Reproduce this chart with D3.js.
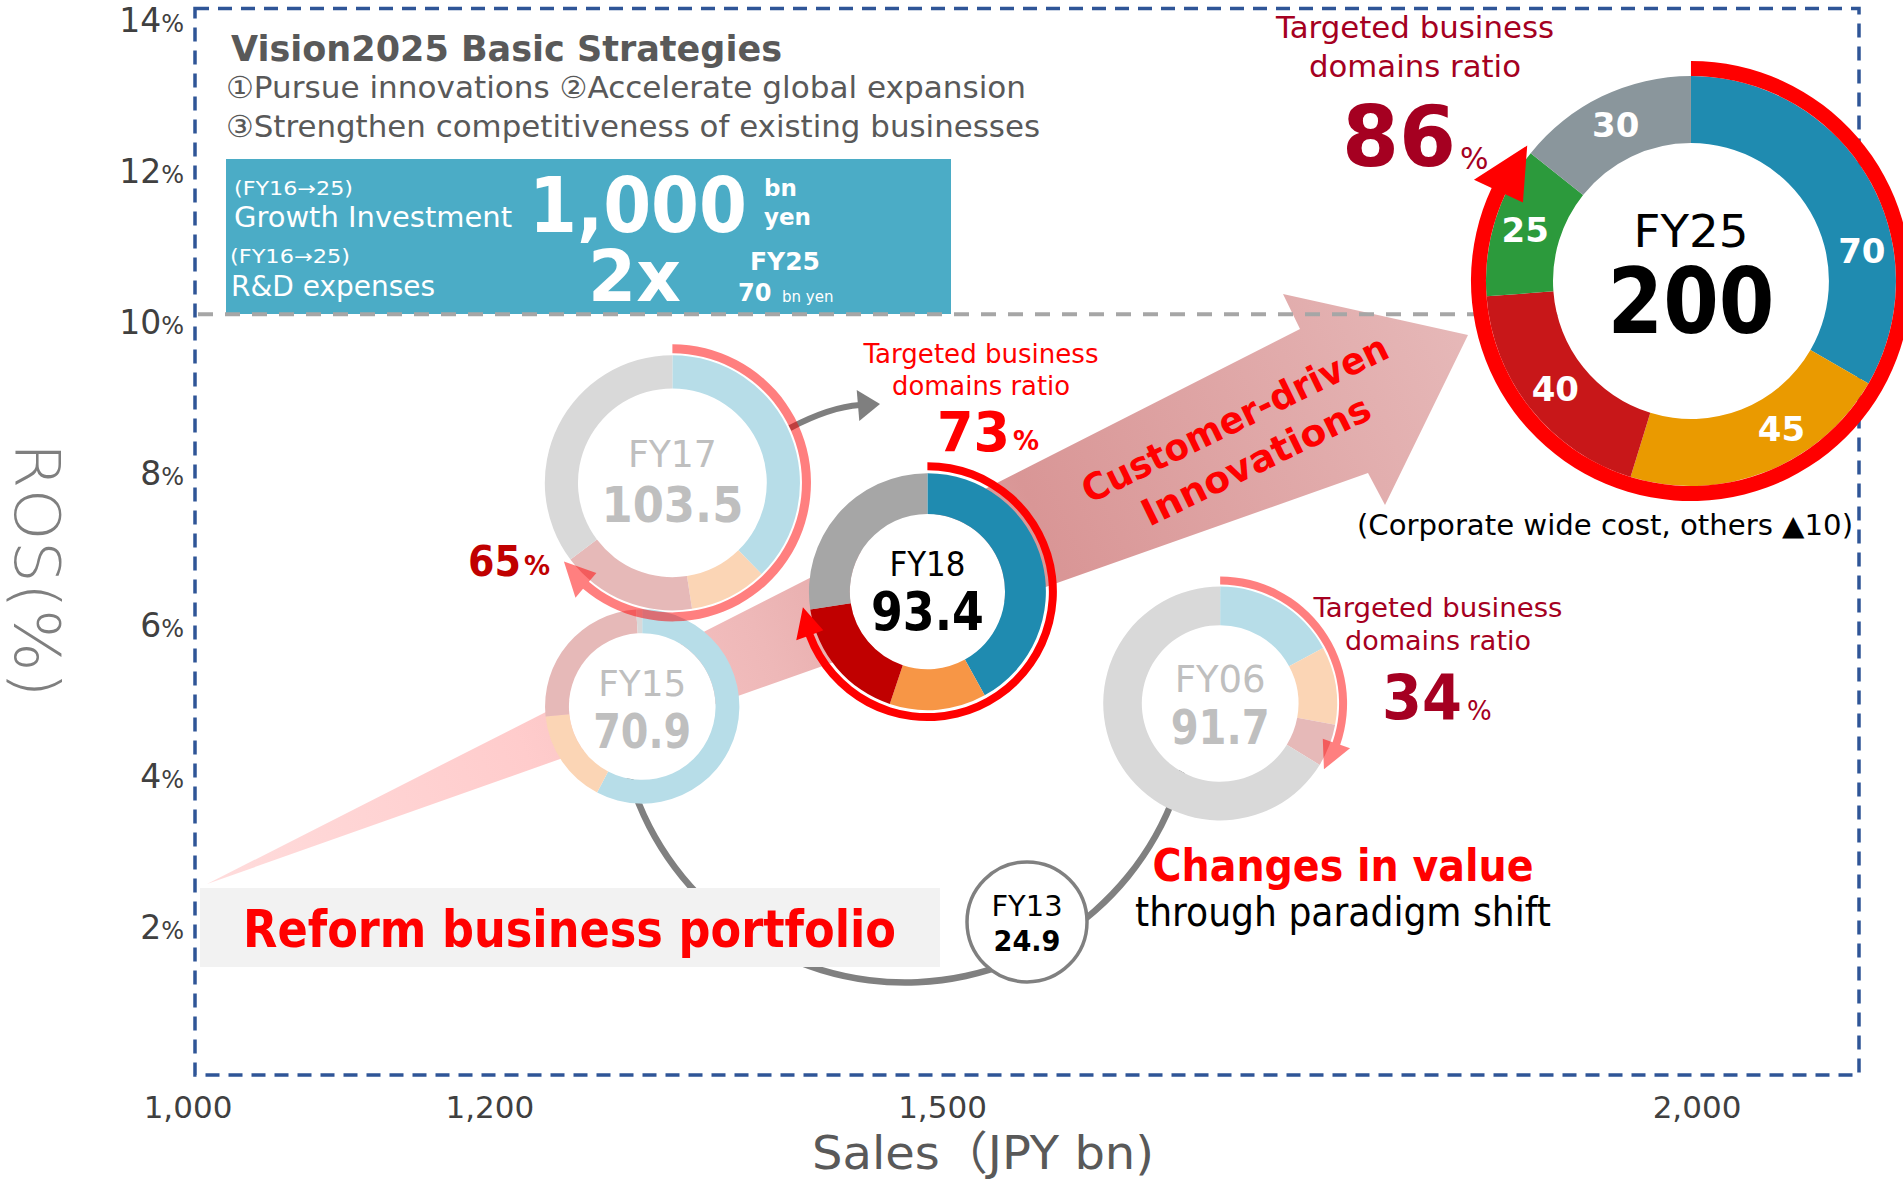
<!DOCTYPE html>
<html>
<head>
<meta charset="utf-8">
<script src="https://cdn.jsdelivr.net/npm/d3@7"></script>
<style>
  html, body { margin: 0; padding: 0; background: #fff; }
  svg { display: block; font-family: "DejaVu Sans", "Noto Sans CJK JP", sans-serif; }
</style>
</head>
<body>
<svg id="chart" width="1903" height="1181"></svg>
<script>
// ---------------- data ----------------
const years = ["FY06", "FY13", "FY15", "FY17", "FY18", "FY25"];
const sales = [1684, 1556, 1301, 1321, 1490, 1996];            // JPY bn
const ros = [4.85, 1.96, 4.81, 7.77, 6.33, 10.44];             // %
const operatingIncome = [91.7, 24.9, 70.9, 103.5, 93.4, 200];   // JPY bn
const targetRatio = [34, null, null, 65, 73, 86];               // % of income from targeted domains

// income by business domain, clockwise from 12 o'clock:
// [domain 1, domain 2, domain 3, domain 4, other businesses]
const segFY06 = [15.7, 9.9, 5.4, 0, 60.7];
const segFY15 = [40.9, 11.1, 18.2, 0, 0.7];
const segFY17 = [39.0, 10.2, 17.8, 0, 36.5];
const segFY18 = [39.2, 12.3, 16.3, 0, 25.6];
const segFY25 = [70, 45, 40, 25, 30];
const fy25CorporateOthers = -10;

const xTicks = [1000, 1200, 1500, 2000];
const xTickLabels = ["1,000", "1,200", "1,500", "2,000"];
const yTicks = [2, 4, 6, 8, 10, 12, 14];
const targetROS = 10;

// ---------------- scales ----------------
const svg = d3.select("#chart");
const x = d3.scaleLinear().domain([1000, 2000]).range([188, 1697]);
const y = d3.scaleLinear().domain([0, 14]).range([1070, 12]);
const rScale = d3.scalePow().exponent(0.72).domain([0, 200]).range([0, 205]);

// ---------------- palettes / styles ----------------
const fullPal = ["#1f8bb0", "#f79646", "#c00000", "#2c9a3c", "#a6a6a6"];
const fadedPal = ["#b7dde8", "#fbd5b5", "#e6b9b8", "#cfe8cf", "#d9d9d9"];
const fy25Pal = ["#1f8bb0", "#ea9a00", "#c81719", "#2c9a3c", "#8a969c"];

function addText(g, str, o) {
  const t = g.append("text")
    .attr("x", o.x).attr("y", o.y)
    .attr("font-size", o.size)
    .attr("fill", o.fill || "#000")
    .attr("text-anchor", o.anchor || "start")
    .attr("dominant-baseline", o.baseline || "central");
  if (o.bold) t.attr("font-weight", "bold");
  if (o.weight) t.attr("font-weight", o.weight);
  if (o.len) t.attr("textLength", o.len).attr("lengthAdjust", "spacingAndGlyphs");
  if (o.rotate) t.attr("transform", `rotate(${o.rotate},${o.x},${o.y})`);
  t.text(str);
  return t;
}

// point at radius r, angle a measured clockwise from 12 o'clock
function pt(cx, cy, r, a) { return [cx + r * Math.sin(a), cy - r * Math.cos(a)]; }

// thick arc from 12 o'clock clockwise to `ratio` of a turn, ending in an arrowhead
function ringPath(cx, cy, rc, w, ratio, headW, headL) {
  const ae = ratio * 2 * Math.PI, ab = ae - headL / rc;
  const ro = rc + w / 2, ri = rc - w / 2;
  const s = a => a - Math.PI / 2;
  const p = d3.path();
  p.moveTo(...pt(cx, cy, ro, 0));
  p.arc(cx, cy, ro, s(0), s(ab), false);
  p.lineTo(...pt(cx, cy, rc + headW / 2, ab));
  p.lineTo(...pt(cx, cy, rc, ae));
  p.lineTo(...pt(cx, cy, rc - headW / 2, ab));
  p.lineTo(...pt(cx, cy, ri, ab));
  p.arc(cx, cy, ri, s(ab), s(0), true);
  p.closePath();
  return p.toString();
}

// ---------------- frame ----------------
svg.append("rect")
  .attr("x", 195).attr("y", 8.5).attr("width", 1664).attr("height", 1066.5)
  .attr("fill", "none").attr("stroke", "#2f5597").attr("stroke-width", 3.5)
  .attr("stroke-dasharray", "14 9");

// ---------------- axes (labels only) ----------------
const yAx = svg.append("g");
yTicks.forEach(v => {
  const t = yAx.append("text").attr("x", 184).attr("y", y(v) + 20)
    .attr("text-anchor", "end").attr("fill", "#404040");
  t.append("tspan").attr("font-size", 33).text(v);
  t.append("tspan").attr("font-size", 24).text("%");
});
addText(svg, "ROS(%)", { x: 36, y: 570, size: 62, fill: "#7f7f7f", anchor: "middle", rotate: 90, len: 255, weight: 300 });

xTicks.forEach((v, i) => {
  addText(svg, xTickLabels[i], { x: x(v), y: 1107, size: 31, fill: "#404040", anchor: "middle" });
});
addText(svg, "Sales（JPY bn)", { x: 983, y: 1153, size: 46, fill: "#595959", anchor: "middle", len: 342 });

// ---------------- strategy header ----------------
addText(svg, "Vision2025 Basic Strategies", { x: 231, y: 48, size: 36, bold: true, fill: "#595959", len: 551 });
addText(svg, "①Pursue innovations ②Accelerate global expansion", { x: 226, y: 87, size: 30, fill: "#595959", len: 800 });
addText(svg, "③Strengthen competitiveness of existing businesses", { x: 226, y: 126, size: 30, fill: "#595959", len: 814 });

svg.append("rect").attr("x", 226).attr("y", 159).attr("width", 725).attr("height", 155).attr("fill", "#4bacc6");
addText(svg, "(FY16→25)", { x: 234, y: 188, size: 19, fill: "#fff", len: 119 });
addText(svg, "Growth Investment", { x: 234, y: 217, size: 28, fill: "#fff", len: 278 });
addText(svg, "1,000", { x: 529, y: 205, size: 76, bold: true, fill: "#fff", len: 218 });
addText(svg, "bn", { x: 764, y: 188, size: 23, bold: true, fill: "#fff" });
addText(svg, "yen", { x: 764, y: 217, size: 23, bold: true, fill: "#fff" });
addText(svg, "(FY16→25)", { x: 230, y: 256, size: 19, fill: "#fff", len: 120 });
addText(svg, "R&D expenses", { x: 231, y: 286, size: 28, fill: "#fff", len: 204 });
addText(svg, "2x", { x: 588, y: 276, size: 72, bold: true, fill: "#fff", len: 93 });
addText(svg, "FY25", { x: 785, y: 262, size: 24, bold: true, fill: "#fff", anchor: "middle", len: 70 });
addText(svg, "70", { x: 738, y: 293, size: 24, bold: true, fill: "#fff" });
addText(svg, "bn yen", { x: 782, y: 297, size: 15, fill: "#fff" });

// ---------------- growth arrow ----------------
const defs = svg.append("defs");
const grad = defs.append("linearGradient").attr("id", "growthGrad")
  .attr("gradientUnits", "userSpaceOnUse")
  .attr("x1", 207).attr("y1", 884).attr("x2", 1468).attr("y2", 335);
[[0, "#ffdcdc"], [0.25, "#ffcccc"], [0.44, "#eeb8b8"], [0.66, "#d99696"], [1, "#e6b8b8"]]
  .forEach(([o, c]) => grad.append("stop").attr("offset", o).attr("stop-color", c));
svg.append("path")
  .attr("d", d3.line()([[207, 884], [1300, 329], [1283, 294], [1468, 335], [1385, 505], [1368, 473]]) + "Z")
  .attr("fill", "url(#growthGrad)");

// target ROS line
svg.append("line")
  .attr("x1", 198).attr("x2", x(sales[5])).attr("y1", y(targetROS)).attr("y2", y(targetROS))
  .attr("stroke", "#a6a6a6").attr("stroke-width", 4).attr("stroke-dasharray", "15 12");

// paradigm-shift cycle
svg.append("path")
  .attr("transform", "translate(905,695)")
  .attr("d", d3.arc().innerRadius(284.25).outerRadius(290.75)
    .startAngle(100 * Math.PI / 180).endAngle(255 * Math.PI / 180)())
  .attr("fill", "#808080");

// portfolio reform banner
svg.append("rect").attr("x", 200).attr("y", 888).attr("width", 740).attr("height", 79).attr("fill", "#f2f2f2");
addText(svg, "Reform business portfolio", { x: 243, y: 929, size: 52, bold: true, fill: "#ff0000", len: 653 });

// ---------------- donuts ----------------
const donutStyle = {
  FY06: { inner: 0.67, palette: fadedPal, faded: true, gap: 2, ringW: 8,
          label: { fill: "#bfbfbf", fy: -24, fySize: 38, fyLen: 91, vy: 24, vSize: 48, vLen: 99 } },
  FY15: { inner: 0.755, palette: fadedPal, faded: true,
          label: { fill: "#bfbfbf", fy: -23, fySize: 36, fyLen: 88, vy: 24, vSize: 48, vLen: 98 } },
  FY17: { inner: 0.74, palette: fadedPal, faded: true, gap: 2, ringW: 9,
          label: { fill: "#bfbfbf", fy: -29, fySize: 38, fyLen: 89, vy: 22, vSize: 50, vLen: 142 } },
  FY18: { inner: 0.655, palette: fullPal, faded: false, gap: 3, ringW: 8,
          label: { fill: "#000", fy: -28, fySize: 34, fyLen: 76, vy: 20, vSize: 54, vLen: 113 } },
  FY25: { inner: 0.673, palette: fy25Pal, faded: false, gap: 0, ringW: 15,
          label: { fill: "#000", fy: -50, fySize: 44, fyLen: 115, vy: 20, vSize: 90, vLen: 167 } }
};

function drawDonut(i, segs) {
  const name = years[i], st = donutStyle[name];
  const cx = x(sales[i]), cy = y(ros[i]);
  const ro = rScale(operatingIncome[i]), ri = ro * st.inner;
  const g = svg.append("g").attr("transform", `translate(${cx},${cy})`);
  const arcs = d3.pie().sort(null).value(d => d)(segs).filter(a => a.value > 0);
  const arcGen = d3.arc().innerRadius(ri).outerRadius(ro);
  g.append("circle").attr("r", ri).attr("fill", "#fff");
  g.selectAll("path.seg").data(arcs).join("path")
    .attr("class", "seg").attr("d", arcGen).attr("fill", d => st.palette[d.index]);
  if (targetRatio[i] != null) {
    const rc = ro + st.gap + st.ringW / 2;
    const hw = st.ringW * 3.6;
    g.append("path")
      .attr("d", ringPath(0, 0, rc, st.ringW, targetRatio[i] / 100, hw, hw))
      .attr("fill", "#ff0000").attr("fill-opacity", st.faded ? 0.5 : 1);
  }
  const L = st.label;
  addText(g, name, { x: 0, y: L.fy, size: L.fySize, fill: L.fill, anchor: "middle", len: L.fyLen });
  addText(g, d3.format(",")(operatingIncome[i]), { x: 0, y: L.vy, size: L.vSize, bold: true, fill: L.fill, anchor: "middle", len: L.vLen });
  return { g, arcs, ri, ro, cx, cy };
}

drawDonut(2, segFY15);

// transition arrow out of FY17
svg.append("path").attr("d", "M790,428 Q830,407 860,405")
  .attr("fill", "none").attr("stroke", "#7f7f7f").attr("stroke-width", 6);
svg.append("path").attr("d", d3.line()([[856.7, 390], [880, 404], [859.3, 421]]) + "Z").attr("fill", "#7f7f7f");

drawDonut(3, segFY17);
drawDonut(4, segFY18);
drawDonut(0, segFY06);

// FY13 trough
{
  const cx = x(sales[1]), cy = y(ros[1]);
  const g = svg.append("g").attr("transform", `translate(${cx},${cy})`);
  g.append("circle").attr("r", 60).attr("fill", "#fff").attr("stroke", "#808080").attr("stroke-width", 3.5);
  addText(g, years[1], { x: 0, y: -16, size: 29, anchor: "middle", len: 71 });
  addText(g, d3.format(",")(operatingIncome[1]), { x: 0, y: 19, size: 29, bold: true, anchor: "middle", len: 67 });
}

const d25 = drawDonut(5, segFY25);
// segment values on the FY25 ring
const labelNudge = [20, -10, 0, 0, 0];
d25.arcs.forEach(a => {
  const mid = (a.startAngle + a.endAngle) / 2 + labelNudge[a.index] * Math.PI / 180;
  const [lx, ly] = pt(0, 0, (d25.ri + d25.ro) / 2 + 2, mid);
  addText(d25.g, a.value, { x: lx, y: ly, size: 34, bold: true, fill: "#fff", anchor: "middle" });
});

// ---------------- annotations ----------------
const darkRed = "#a50021";
// FY25
addText(svg, "Targeted business", { x: 1415, y: 27, size: 30, fill: darkRed, anchor: "middle", len: 278 });
addText(svg, "domains ratio", { x: 1415, y: 66, size: 30, fill: darkRed, anchor: "middle", len: 212 });
addText(svg, targetRatio[5], { x: 1342, y: 137, size: 84, bold: true, fill: darkRed, len: 114 });
addText(svg, "%", { x: 1460, y: 158, size: 30, fill: darkRed });
addText(svg, `(Corporate wide cost, others ▲${Math.abs(fy25CorporateOthers)})`,
  { x: 1605, y: 525, size: 28, anchor: "middle", len: 496 });

// FY18
addText(svg, "Targeted business", { x: 981, y: 354, size: 26, fill: "#ff0000", anchor: "middle", len: 235 });
addText(svg, "domains ratio", { x: 981, y: 386, size: 26, fill: "#ff0000", anchor: "middle", len: 178 });
addText(svg, targetRatio[4], { x: 937, y: 431, size: 56, bold: true, fill: "#ff0000", len: 73 });
addText(svg, "%", { x: 1013, y: 441, size: 26, bold: true, fill: "#ff0000" });

// FY17
addText(svg, targetRatio[3], { x: 468, y: 561, size: 42, bold: true, fill: "#c00000", len: 53 });
addText(svg, "%", { x: 524, y: 566, size: 26, bold: true, fill: "#c00000" });

// FY06
addText(svg, "Targeted business", { x: 1438, y: 608, size: 26, fill: darkRed, anchor: "middle", len: 249 });
addText(svg, "domains ratio", { x: 1438, y: 641, size: 26, fill: darkRed, anchor: "middle", len: 186 });
addText(svg, targetRatio[0], { x: 1382, y: 697, size: 62, bold: true, fill: darkRed, len: 80 });
addText(svg, "%", { x: 1467, y: 711, size: 26, fill: darkRed });

// cycle caption
addText(svg, "Changes in value", { x: 1343, y: 865, size: 44, bold: true, fill: "#ff0000", anchor: "middle", len: 381 });
addText(svg, "through paradigm shift", { x: 1343, y: 912, size: 40, fill: "#000", anchor: "middle", len: 416 });

// arrow caption
addText(svg, "Customer-driven", { x: 1235, y: 419, size: 37, bold: true, fill: "#ff0000", anchor: "middle", rotate: -26, len: 336 });
addText(svg, "Innovations", { x: 1256, y: 461, size: 37, bold: true, fill: "#ff0000", anchor: "middle", rotate: -26, len: 250 });
</script>
</body>
</html>
